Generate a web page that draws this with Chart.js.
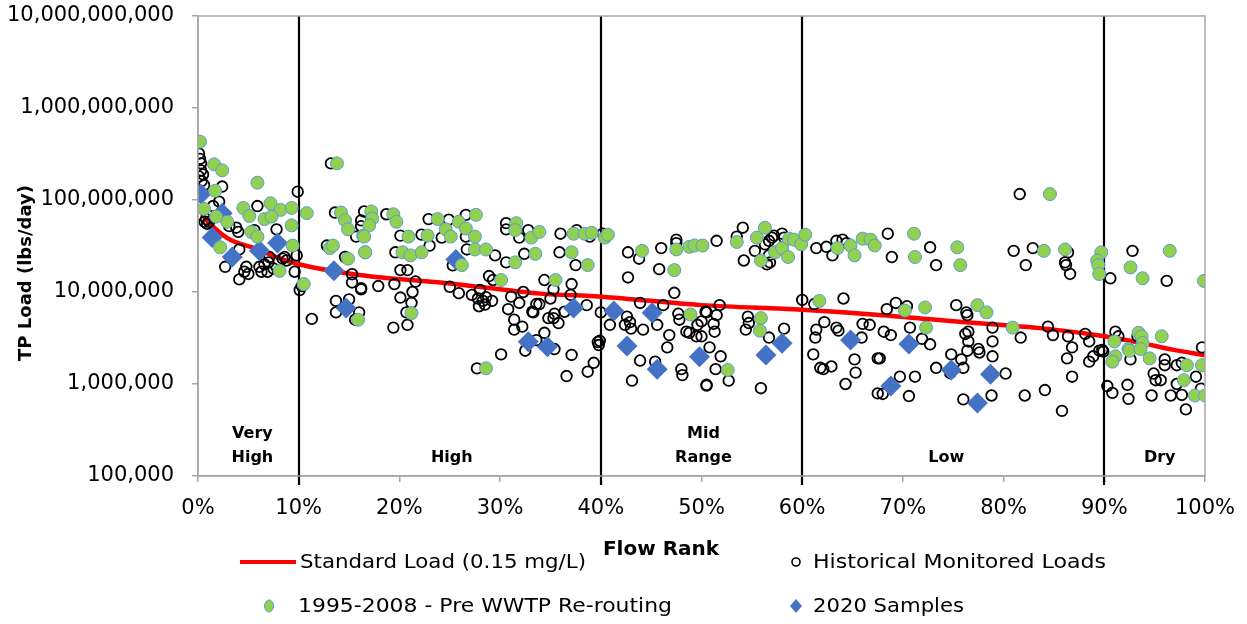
<!DOCTYPE html>
<html>
<head>
<meta charset="utf-8">
<script src="https://cdn.jsdelivr.net/npm/chart.js@4"></script>
<style>
  html, body { margin: 0; padding: 0; background: #fff; }
  #wrap { width: 1247px; height: 624px; }
</style>
</head>
<body>
<div id="wrap"><canvas id="ldc" width="1247" height="624"></canvas></div>
<script>
// tick values / labels
const yTicks = [1e5, 1e6, 1e7, 1e8, 1e9, 1e10];
const xTickStep = 10;

// flow regime zones
const zoneBreaks = [10, 40, 60, 90];
const zoneNames = [["Very", "High"], ["High"], ["Mid", "Range"], ["Low"], ["Dry"]];
const zoneCenters = [5.4, 25.2, 50.2, 74.3, 95.5];

// standard load curve (0.15 mg/L)
const standardRank = [0.1, 0.5, 1.3, 3, 6, 8, 10, 16, 25, 34, 40, 50, 60, 68, 75.6, 85, 90, 93.6, 96.9, 100];
const standardLoad = [8.5e7, 6.8e7, 5.4e7, 3.8e7, 2.9e7, 2.35e7, 2.0e7, 1.53e7, 1.24e7, 9.6e6, 8.9e6, 7.2e6, 6.4e6, 5.6e6, 4.75e6, 3.9e6, 3.3e6, 2.8e6, 2.35e6, 2.05e6];

// historical monitored loads [flow rank %, lbs/day]
const historicalLoads = [
  [0.1,3.2e8],[0.2,2.8e8],[0.3,2.5e8],[0.3,2.1e8],[0.1,1.8e8],[0.5,1.9e8],[0.35,1.6e8],[0.6,1.45e8],
  [2.4,1.4e8],[2.1,9.6e7],[1.5,8.6e7],[5.9,8.6e7],[9.9,1.23e8],[0.65,5.8e7],[0.9,5.5e7],[1.1,5.8e7],[0.8,6.2e7],
  [3.8,5.0e7],[4.0,4.5e7],[3.1,5.2e7],[5.6,4.7e7],[7.8,4.8e7],[4.1,2.9e7],[2.7,1.88e7],[4.8,1.88e7],[4.6,1.66e7],
  [5.0,1.57e7],[4.1,1.37e7],[6.1,1.88e7],[6.3,1.66e7],[6.9,1.66e7],[7.1,2.4e7],[7.0,2.1e7],[8.6,2.4e7],[8.8,2.2e7],
  [8.4,2.3e7],[9.6,1.66e7],[9.8,2.5e7],[10.1,1.05e7],[10.3,1.16e7],[11.3,5.1e6],[6.6,2.0e7],[7.5,1.8e7],
  [13.2,2.5e8],[13.6,7.3e7],[16.5,7.5e7],[15.7,4.0e7],[12.8,3.2e7],[14.6,2.4e7],[15.3,1.56e7],[15.3,1.27e7],
  [16.2,1.07e7],[13.7,8.0e6],[15.0,8.3e6],[13.7,6.0e6],[16.0,6.0e6],[15.6,5.0e6],
  [18.7,7.0e7],[16.2,6.0e7],[16.2,5.2e7],[22.9,6.2e7],[24.9,6.1e7],[26.6,6.9e7],[30.6,5.6e7],[30.6,4.8e7],
  [32.8,4.7e7],[20.1,4.1e7],[22.2,4.2e7],[24.2,3.9e7],[26.6,4.0e7],[31.9,3.9e7],[19.6,2.7e7],[23.0,3.2e7],
  [26.7,2.9e7],[29.5,2.5e7],[32.4,2.6e7],[30.6,2.1e7],[25.3,1.95e7],[20.1,1.73e7],[20.8,1.73e7],[28.9,1.49e7],
  [29.3,1.35e7],[16.2,1.1e7],[17.9,1.16e7],[19.5,1.22e7],[21.6,1.3e7],[21.3,1.0e7],[20.1,8.7e6],[21.2,7.6e6],
  [20.7,6.0e6],[20.8,4.4e6],[19.4,4.1e6],[25.0,1.14e7],[25.9,9.7e6],[27.2,9.3e6],[28.0,1.05e7],
  [27.8,8.5e6],[28.3,8.0e6],[28.6,8.8e6],[29.2,8.0e6],[27.9,7.0e6],[28.5,7.3e6],
  [30.8,6.5e6],[31.1,8.9e6],[32.3,1.0e7],[31.9,7.6e6],[33.2,6.1e6],[33.6,7.4e6],[31.4,5.0e6],[31.4,3.9e6],
  [32.2,4.2e6],[32.5,2.3e6],[30.1,2.1e6],[27.7,1.48e6],
  [36.0,4.3e7],[37.6,4.7e7],[38.9,4.0e7],[35.9,2.7e7],[37.5,1.96e7],[34.4,1.35e7],[35.3,1.07e7],[37.1,1.22e7],
  [37.0,9.3e6],[33.9,7.4e6],[35.0,8.5e6],[33.3,6.0e6],[34.8,5.2e6],[35.4,5.8e6],[35.3,5.2e6],[35.8,4.6e6],
  [36.4,6.1e6],[38.6,7.2e6],[40.0,6.0e6],[34.4,3.6e6],[33.6,3.0e6],[35.4,2.4e6],[37.1,2.07e6],[39.3,1.7e6],
  [38.7,1.36e6],[36.6,1.22e6],[39.7,2.86e6],[39.8,2.65e6],[39.9,2.95e6],
  [42.7,2.7e7],[43.8,2.3e7],[46.0,3.0e7],[47.5,3.7e7],[42.7,1.44e7],[45.8,1.77e7],[47.3,9.8e6],[43.9,7.6e6],
  [46.2,7.2e6],[40.9,4.4e6],[42.4,4.4e6],[42.9,4.7e6],[42.6,5.4e6],[43.0,4.0e6],[44.2,3.9e6],[45.6,4.4e6],
  [46.8,3.4e6],[46.6,2.5e6],[47.7,5.8e6],[47.8,5.0e6],[48.5,3.7e6],[48.8,3.6e6],[49.6,4.4e6],[49.5,3.3e6],
  [50.4,6.1e6],[43.9,1.8e6],[45.4,1.75e6],[48.0,1.45e6],[48.1,1.25e6],[43.1,1.09e6],[50.5,9.8e5],[40.2,4.3e7],[47.5,3.4e7],
  [51.5,3.6e7],[53.5,4.0e7],[54.1,5.0e7],[55.3,2.8e7],[54.2,2.2e7],[56.3,3.3e7],[56.7,2.5e7],[57.0,3.9e7],
  [56.8,2.1e7],[57.2,4.1e7],[58.0,4.3e7],[58.2,3.9e7],[56.5,2.0e7],[56.7,3.6e7],
  [51.8,7.2e6],[50.5,6.0e6],[51.5,5.6e6],[50.0,4.8e6],[51.2,4.5e6],[51.3,3.7e6],[50.0,3.3e6],[50.8,2.5e6],
  [51.9,2.0e6],[54.6,5.4e6],[54.7,4.6e6],[54.4,3.9e6],[58.2,4.0e6],[56.7,3.2e6],[51.4,1.45e6],[52.7,1.09e6],
  [50.5,9.6e5],[55.9,9.0e5],
  [61.4,3.0e7],[62.4,3.1e7],[63.0,2.5e7],[63.4,3.6e7],[64.0,3.7e7],[64.4,3.4e7],[60.0,8.2e6],[61.2,7.4e6],
  [64.1,8.5e6],[62.2,4.7e6],[61.4,3.9e6],[61.3,3.2e6],[63.4,4.1e6],[63.6,3.8e6],[66.0,4.5e6],[65.9,3.2e6],
  [61.1,2.1e6],[61.8,1.5e6],[62.1,1.45e6],[62.9,1.55e6],[65.2,1.85e6],[65.3,1.33e6],[64.3,1.0e6],[67.5,1.9e6],[67.5,7.9e5],
  [81.6,1.16e8],[68.5,4.3e7],[68.9,2.4e7],[72.7,3.06e7],[73.3,1.96e7],[81.0,2.8e7],[82.9,3.0e7],[82.2,1.96e7],
  [69.3,7.6e6],[68.4,6.5e6],[70.4,7.0e6],[75.3,7.2e6],[76.3,6.0e6],[76.4,5.6e6],[66.7,4.4e6],[68.1,3.7e6],
  [68.8,3.4e6],[70.7,4.1e6],[71.9,3.1e6],[72.7,2.7e6],[76.2,3.5e6],[76.5,3.7e6],[76.5,2.9e6],[76.4,2.3e6],
  [77.5,2.4e6],[77.6,2.2e6],[78.9,4.1e6],[78.9,2.9e6],[78.9,2.0e6],[75.8,1.85e6],[74.8,2.1e6],[74.7,1.31e6],
  [76.0,1.5e6],[73.3,1.5e6],[67.7,1.9e6],[69.7,1.2e6],[71.2,1.2e6],[68.0,7.8e5],[70.6,7.4e5],[76.0,6.8e5],
  [78.8,7.5e5],[80.2,1.3e6],[81.7,3.2e6],[82.1,7.5e5],[84.1,8.6e5],[84.4,4.2e6],
  [86.4,2.7e7],[86.1,2.1e7],[86.2,1.96e7],[86.6,1.57e7],[84.9,3.4e6],[86.4,3.3e6],[86.8,2.5e6],[86.3,1.9e6],
  [88.1,3.5e6],[88.5,2.9e6],[88.5,1.75e6],[88.9,2.0e6],[89.5,2.3e6],[89.8,2.35e6],[89.9,2.25e6],[86.8,1.2e6],[85.8,5.1e5],
  [90.6,1.41e7],[92.8,2.8e7],[96.2,1.32e7],[90.3,9.5e5],[90.8,8.0e5],[91.1,3.7e6],[91.4,3.3e6],[92.3,9.8e5],
  [92.4,6.9e5],[92.6,1.85e6],[93.3,3.3e6],[94.9,1.3e6],[95.1,1.1e6],[95.6,1.1e6],[96.0,1.85e6],[96.0,1.6e6],
  [94.7,7.5e5],[96.6,7.5e5],[97.2,1.6e6],[97.7,1.7e6],[97.2,1.0e6],[97.7,7.6e5],[98.1,5.3e5],[99.1,1.2e6],
  [99.7,2.5e6],[99.6,8.9e5]
];

// 1995-2008 pre WWTP re-routing
const preRerouting = [
  [0.2,4.3e8],[1.6,2.44e8],[2.4,2.1e8],[5.9,1.54e8],[1.7,1.26e8],[0.6,8.0e7],[4.5,8.2e7],[7.2,9.2e7],[8.2,7.8e7],
  [9.3,8.2e7],[10.8,7.2e7],[5.1,6.7e7],[6.6,6.2e7],[7.3,6.6e7],[9.3,5.3e7],[2.9,5.8e7],[1.8,6.6e7],[5.3,4.5e7],
  [5.9,4.0e7],[2.2,3.06e7],[9.4,3.2e7],[8.1,1.7e7],[10.5,1.22e7],
  [13.8,2.5e8],[14.2,7.3e7],[14.6,6.0e7],[14.9,4.8e7],[16.4,4.1e7],[13.1,3.0e7],[13.4,3.2e7],[14.9,2.3e7],
  [16.6,2.7e7],[15.9,5.0e6],
  [17.2,7.5e7],[17.3,6.3e7],[17.0,5.3e7],[16.5,4.0e7],[16.6,2.7e7],[19.4,7.0e7],[19.7,5.8e7],[20.9,4.0e7],
  [20.3,2.7e7],[21.1,2.5e7],[22.2,2.7e7],[22.8,4.1e7],[23.8,6.2e7],[24.6,4.8e7],[25.1,4.0e7],[25.9,5.8e7],
  [26.6,4.9e7],[27.6,6.9e7],[27.5,4.0e7],[27.5,2.9e7],[28.6,2.9e7],[26.2,1.96e7],[30.1,1.35e7],[21.2,5.9e6],
  [28.6,1.48e6],[31.6,5.6e7],[31.5,4.7e7],[33.1,3.9e7],[33.5,2.6e7],[31.5,2.1e7],
  [33.9,4.5e7],[37.3,4.3e7],[38.4,4.3e7],[39.1,4.4e7],[40.4,3.9e7],[40.7,4.2e7],[37.1,2.7e7],[38.7,1.96e7],
  [35.5,1.35e7],[44.1,2.8e7],[47.5,2.9e7],[48.8,3.1e7],[49.3,3.2e7],[50.1,3.2e7],[47.3,1.73e7],[48.9,5.7e6],
  [53.5,3.5e7],[55.5,3.9e7],[56.3,5.0e7],[55.9,2.2e7],[57.3,2.7e7],[58.0,3.0e7],[58.6,2.4e7],[58.7,3.8e7],
  [59.2,3.7e7],[59.9,3.3e7],[60.3,4.2e7],[63.5,3.0e7],[64.8,3.2e7],[65.2,2.5e7],[66.0,3.8e7],[66.8,3.7e7],
  [67.2,3.2e7],[61.7,8.0e6],[55.9,5.2e6],[55.8,3.8e6],[52.6,1.42e6],
  [71.1,4.3e7],[71.2,2.4e7],[75.4,3.06e7],[75.7,1.96e7],[84.6,1.16e8],[84.0,2.8e7],[70.2,6.3e6],[72.2,6.8e6],
  [72.3,4.1e6],[77.4,7.2e6],[78.3,6.0e6],[80.9,4.1e6],
  [86.1,2.9e7],[89.7,2.7e7],[89.3,2.2e7],[89.4,1.96e7],[89.5,1.57e7],[92.6,1.85e7],[93.8,1.41e7],[96.5,2.8e7],
  [99.9,1.32e7],[91.0,2.9e6],[91.1,2.0e6],[90.8,1.75e6],[92.4,2.4e6],[92.5,2.3e6],[93.4,3.6e6],[93.7,3.3e6],
  [93.8,2.8e6],[93.6,2.4e6],[94.5,1.9e6],[95.7,3.3e6],[98.2,1.6e6],[99.7,1.6e6],[97.9,1.1e6],[99.0,7.5e5],[100,7.5e5]
];

// 2020 samples
const samples2020 = [
  [0.3,1.16e8],[2.4,7.2e7],[1.4,3.9e7],[3.4,2.4e7],[6.1,2.8e7],[7.9,3.4e7],[13.5,1.7e7],[14.7,6.7e6],
  [25.6,2.26e7],[32.8,2.88e6],[34.7,2.54e6],[37.3,6.7e6],[41.3,6.2e6],[42.6,2.59e6],[45.1,5.96e6],[45.6,1.45e6],
  [49.8,1.98e6],[56.4,2.07e6],[58.0,2.77e6],[64.8,3.0e6],[68.8,9.5e5],[70.6,2.72e6],[74.8,1.42e6],[77.4,6.2e5],[78.7,1.28e6]
];

const FONT = "'DejaVu Sans', 'Liberation Sans', sans-serif";
const toXY = arr => arr.map(p => ({ x: p[0], y: p[1] }));

// draw text squeezed/stretched to a given width (legend labels)
function fillTextW(ctx, text, x, y, w) {
  const k = w / ctx.measureText(text).width;
  ctx.save();
  ctx.translate(x, y);
  ctx.scale(k, 1);
  ctx.fillText(text, 0, 0);
  ctx.restore();
}

const decor = {
  id: "decor",
  beforeDatasetsDraw(chart) {
    const { ctx, chartArea: a, scales: { x } } = chart;
    ctx.save();
    ctx.strokeStyle = "#000";
    ctx.lineWidth = 2.2;
    zoneBreaks.forEach(b => {
      const px = Math.round(x.getPixelForValue(b));
      ctx.beginPath();
      ctx.moveTo(px, a.top);
      ctx.lineTo(px, a.bottom + 9);
      ctx.stroke();
    });
    ctx.fillStyle = "#000";
    ctx.font = `bold 16px ${FONT}`;
    ctx.textAlign = "center";
    ctx.textBaseline = "middle";
    zoneNames.forEach((lines, i) => {
      const px = x.getPixelForValue(zoneCenters[i]);
      const top = lines.length === 2 ? 434 : 458;
      lines.forEach((t, j) => ctx.fillText(t, px, top + j * 24));
    });
    ctx.restore();
  },
  afterDraw(chart) {
    const { ctx, chartArea: a } = chart;
    ctx.save();
    // plot area box
    ctx.strokeStyle = "#a6a6a6";
    ctx.lineWidth = 1.5;
    ctx.strokeRect(a.left, a.top, a.right - a.left, a.bottom - a.top);

    // axis titles
    ctx.fillStyle = "#000";
    ctx.textAlign = "center";
    ctx.textBaseline = "middle";
    ctx.font = `bold 20px ${FONT}`;
    ctx.fillText("Flow Rank", 661, 550);
    ctx.save();
    ctx.translate(26, 273);
    ctx.rotate(-Math.PI / 2);
    ctx.font = `bold 18px ${FONT}`;
    ctx.fillText("TP Load (lbs/day)", 0, 0);
    ctx.restore();

    // legend
    const ds = chart.data.datasets;
    ctx.font = `20px ${FONT}`;
    ctx.textAlign = "left";
    const red = ds[3];
    ctx.strokeStyle = red.borderColor;
    ctx.lineWidth = 4;
    ctx.beginPath(); ctx.moveTo(240, 562); ctx.lineTo(296, 562); ctx.stroke();
    fillTextW(ctx, red.label, 300, 563, 286);

    const hist = ds[2];
    ctx.strokeStyle = hist.borderColor; ctx.lineWidth = 1.6;
    ctx.beginPath(); ctx.arc(796, 562, 4, 0, Math.PI * 2); ctx.stroke();
    fillTextW(ctx, hist.label, 813, 563, 293);

    const green = ds[0];
    ctx.fillStyle = green.backgroundColor; ctx.strokeStyle = green.borderColor; ctx.lineWidth = 1;
    ctx.beginPath(); ctx.ellipse(269, 606, 4.5, 6, 0, 0, Math.PI * 2); ctx.fill(); ctx.stroke();
    ctx.fillStyle = "#000";
    fillTextW(ctx, green.label, 298, 607, 374);

    const blue = ds[1];
    ctx.fillStyle = blue.backgroundColor;
    ctx.beginPath();
    ctx.moveTo(796, 599); ctx.lineTo(802, 606); ctx.lineTo(796, 613); ctx.lineTo(790, 606);
    ctx.closePath(); ctx.fill();
    ctx.fillStyle = "#000";
    fillTextW(ctx, blue.label, 813, 607, 151);
    ctx.restore();
  }
};

new Chart(document.getElementById("ldc"), {
  type: "scatter",
  data: {
    datasets: [
      {
        label: "1995-2008 - Pre WWTP Re-routing",
        data: toXY(preRerouting),
        pointStyle: "circle", pointRadius: 6.5,
        backgroundColor: "#92D050", borderColor: "#5B9BD5", borderWidth: 1,
        order: 0
      },
      {
        label: "2020 Samples",
        data: toXY(samples2020),
        pointStyle: "rectRot", pointRadius: 10.5,
        backgroundColor: "#4472C4", borderColor: "#4472C4", borderWidth: 0,
        order: 1
      },
      {
        label: "Historical Monitored Loads",
        data: toXY(historicalLoads),
        pointStyle: "circle", pointRadius: 5.3,
        backgroundColor: "rgba(0,0,0,0)", borderColor: "#000", borderWidth: 1.8,
        order: 2
      },
      {
        type: "line",
        label: "Standard Load (0.15 mg/L)",
        data: standardRank.map((r, i) => ({ x: r, y: standardLoad[i] })),
        borderColor: "#FF0000", borderWidth: 4.5,
        pointRadius: 0, fill: false,
        cubicInterpolationMode: "monotone",
        order: 3
      }
    ]
  },
  options: {
    responsive: false,
    animation: false,
    devicePixelRatio: 1,
    layout: { padding: { left: 0, right: 42, top: 16, bottom: 0 } },
    plugins: { legend: { display: false }, tooltip: { enabled: false } },
    scales: {
      x: {
        type: "linear", min: 0, max: 100,
        afterFit: s => { s.height = 148; s.paddingLeft = 0; s.paddingRight = 0; },
        ticks: {
          stepSize: xTickStep, padding: 14, color: "#000",
          font: { family: FONT, size: 21 },
          callback: v => v + "%"
        },
        grid: { drawOnChartArea: false, drawTicks: true, tickLength: 6, color: "#a6a6a6", lineWidth: 1.5 },
        border: { color: "#a6a6a6", width: 1.5 }
      },
      y: {
        type: "logarithmic", min: 1e5, max: 1e10,
        afterFit: s => { s.width = 198; s.paddingTop = 0; s.paddingBottom = 0; },
        afterBuildTicks: s => { s.ticks = yTicks.map(v => ({ value: v })); },
        ticks: {
          padding: 18, color: "#000",
          font: { family: FONT, size: 21 },
          callback: v => Number(v).toLocaleString("en-US")
        },
        grid: { drawOnChartArea: false, drawTicks: true, tickLength: 6, color: "#a6a6a6", lineWidth: 1.5 },
        border: { color: "#a6a6a6", width: 1.5 }
      }
    }
  },
  plugins: [decor]
});
</script>
</body>
</html>
